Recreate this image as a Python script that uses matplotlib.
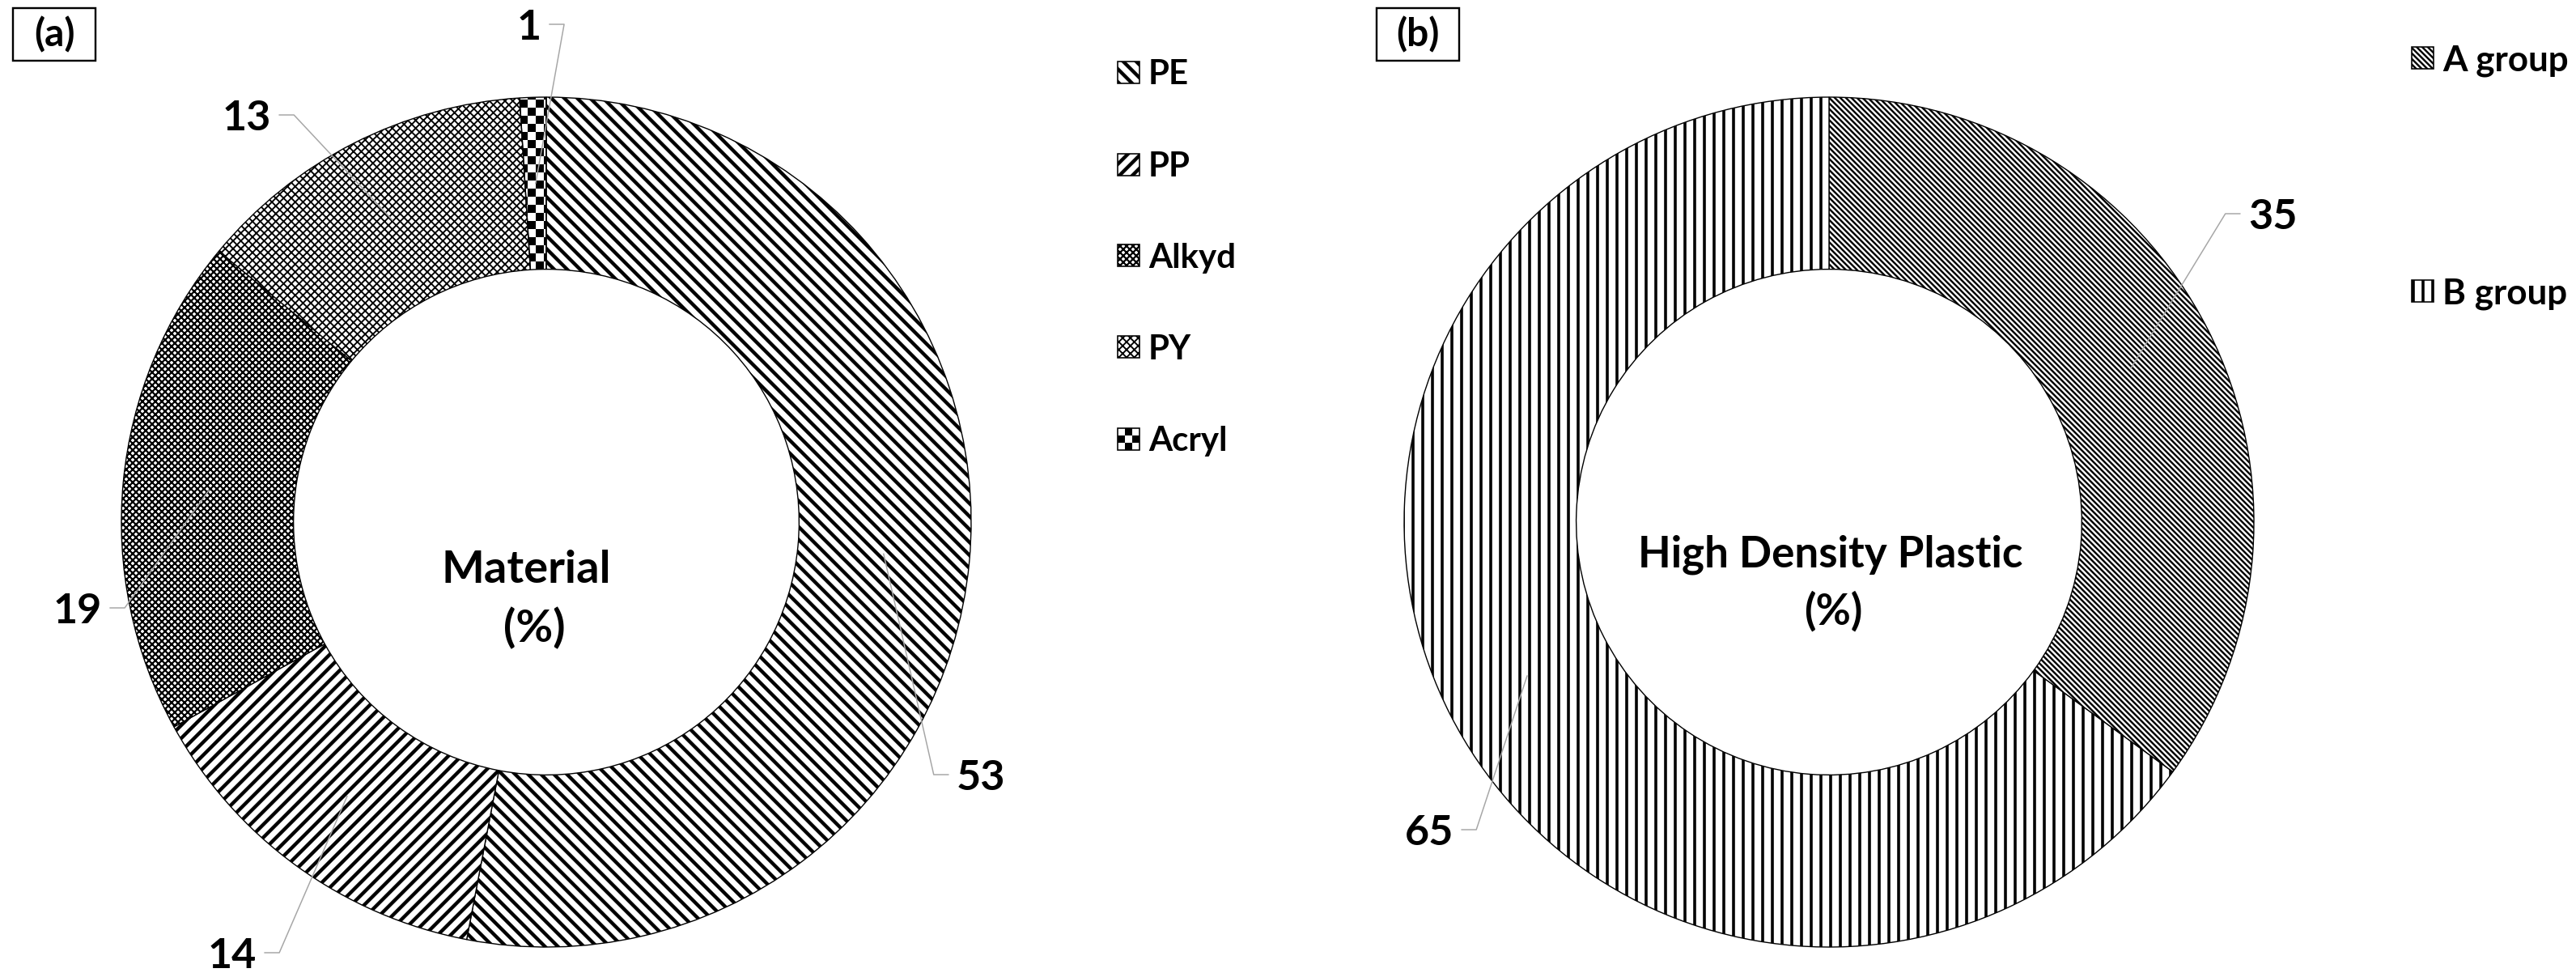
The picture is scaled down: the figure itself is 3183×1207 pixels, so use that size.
import matplotlib.pyplot as plt
import numpy as np
from matplotlib.patches import Rectangle

plt.rcParams["font.family"] = ["Lato", "DejaVu Sans"]
plt.rcParams["font.weight"] = "bold"
plt.rcParams["hatch.linewidth"] = 1.2

# (a) material composition (%)
materials = ["PE", "PP", "Alkyd", "PY", "Acryl"]
material_pct = [53, 14, 19, 13, 1]

# (b) high density plastic (%)
groups = ["A group", "B group"]
group_pct = [35, 65]

W, H, DPI = 3183, 1207, 144
R = 525
RING = 0.405

# (hatch, hatch linewidth); None -> checkerboard
material_style = [("\\" * 3, 2.2), ("/" * 3, 2.2), ("x" * 6, 1.1), ("x" * 5, 0.95), (None, 0)]
group_style = [("\\" * 7, 1.2), ("|" * 2, 1.8)]

fig = plt.figure(figsize=(W / DPI, H / DPI), dpi=DPI)
ax = fig.add_axes([0, 0, 1, 1])


def set_hatch(patch, hatch, lw):
    patch.set_hatch(hatch)
    if hasattr(patch, "set_hatch_linewidth"):
        patch.set_hatch_linewidth(lw)


def fix_limits():
    ax.set_xlim(0, W)
    ax.set_ylim(0, H)


def checker(x0, y0, w, h, cell, zorder):
    nx, ny = int(np.ceil(w / cell)), int(np.ceil(h / cell))
    board = np.indices((ny, nx)).sum(axis=0) % 2
    return ax.imshow(board, cmap="gray_r", vmin=0, vmax=1, origin="upper",
                     extent=(x0, x0 + nx * cell, y0, y0 + ny * cell),
                     interpolation="nearest", zorder=zorder)


def donut(cx, cy, values, styles):
    wedges, _ = ax.pie(values, center=(cx, H - cy), radius=R, startangle=90,
                       counterclock=False,
                       wedgeprops=dict(width=RING * R, facecolor="white",
                                       edgecolor="black", linewidth=0.7))
    for w, (hatch, lw) in zip(wedges, styles):
        if hatch is None:
            x0, y0, x1, y1 = w.get_path().get_extents().extents
            im = checker(x0, y0, x1 - x0, y1 - y0, 10, 0.5)
            im.set_clip_path(w)
            w.set_facecolor("none")
        else:
            set_hatch(w, hatch, lw)
    fix_limits()
    return wedges


def value_labels(wedges, values, positions):
    fix_limits()
    renderer = fig.canvas.get_renderer()
    rm = R * (1 - RING / 2)
    for w, v, (lx, ly) in zip(wedges, values, positions):
        t = ax.text(lx, H - ly, str(v), fontsize=26, ha="center",
                    va="center_baseline", zorder=4)
        mid = np.deg2rad((w.theta1 + w.theta2) / 2)
        tx = w.center[0] + rm * np.cos(mid)
        ty = w.center[1] + rm * np.sin(mid)
        bb = t.get_window_extent(renderer)
        side = 1 if tx > lx else -1
        xs = (bb.x1 if side > 0 else bb.x0) + side * 10
        ax.plot([xs, xs + side * 18, tx], [H - ly, H - ly, ty],
                color="#a6a6a6", lw=0.75, zorder=3)


def legend(labels, styles, x, rows, size, fontsize):
    for lab, (hatch, lw), y in zip(labels, styles, rows):
        yb = H - y - size / 2
        if hatch is None:
            cell = size / 3
            for i in range(3):
                for j in range(3):
                    fc = "black" if (i + j) % 2 else "white"
                    ax.add_patch(Rectangle((x + i * cell, yb + j * cell), cell, cell,
                                           facecolor=fc, edgecolor="none"))
            ax.add_patch(Rectangle((x, yb), size, size, facecolor="none",
                                   edgecolor="black", lw=0.8))
        else:
            box = Rectangle((x, yb), size, size, facecolor="white",
                            edgecolor="black", lw=0.8)
            set_hatch(box, hatch, lw)
            ax.add_patch(box)
        ax.text(x + size + 11, H - y, lab, fontsize=fontsize, va="center_baseline")


def panel_tag(x0, y0, x1, y1, tag):
    ax.add_patch(Rectangle((x0, H - y1), x1 - x0, y1 - y0, facecolor="white",
                           edgecolor="black", lw=1.2))
    ax.text((x0 + x1) / 2, H - (y0 + y1) / 2, tag, fontsize=24,
            ha="center", va="center")


# panel (a)
wa = donut(675, 645, material_pct, material_style)
ax.text(650, H - 700, "Material", fontsize=28, ha="center", va="center_baseline")
ax.text(660, H - 771, "(%)", fontsize=28, ha="center", va="center_baseline")
value_labels(wa, material_pct,
             [(1212, 957), (287, 1177), (96, 751), (305, 142), (654, 30)])
legend(materials, material_style, 1381, [89, 203, 315, 428, 542], 27, 21)
panel_tag(16, 10, 118, 75, "(a)")

# panel (b)
wb = donut(2260, 645, group_pct, group_style)
ax.text(2262, H - 680, "High Density Plastic", fontsize=26.5, ha="center",
        va="center_baseline")
ax.text(2265, H - 751, "(%)", fontsize=26.5, ha="center", va="center_baseline")
value_labels(wb, group_pct, [(2808, 264), (1766, 1025)])
legend(groups, group_style, 2980, [71, 359], 27, 22)
panel_tag(1701, 10, 1803, 75, "(b)")

fix_limits()
ax.set_axis_off()

fig.savefig("out.png", dpi=DPI)
